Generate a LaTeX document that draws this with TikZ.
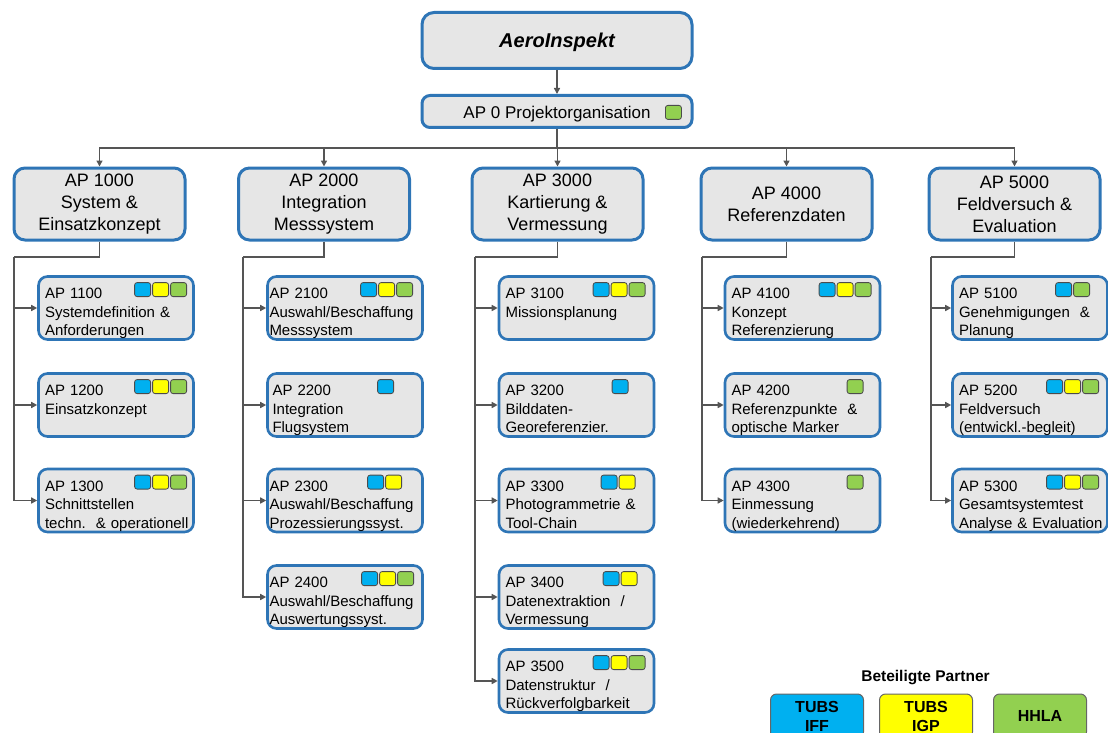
\documentclass[tikz,border=0pt]{standalone}
\usepackage{fontspec}
\setmainfont{Liberation Sans}
\usetikzlibrary{arrows.meta,calc}
\definecolor{boxblue}{RGB}{46,117,182}
\definecolor{boxgray}{RGB}{230,230,230}
\definecolor{linegray}{RGB}{85,85,85}
\definecolor{pblue}{RGB}{0,176,240}
\definecolor{pyellow}{RGB}{255,255,0}
\definecolor{pgreen}{RGB}{146,208,80}
\hyphenpenalty=10000
\newcommand{\pmarks}[3]{%
  \foreach \col [count=\i from 0] in {#3}
    \node[pmark, fill=\col] (#1m\i) at ($(#1.north west)+(#2+18*\i,7)$) {};}

\begin{document}
\begin{tikzpicture}[x=1pt,y=-1pt,
  every node/.style={font=\fontsize{15}{18.5}\selectfont},
  mainbox/.style={draw=boxblue, line width=3pt, fill=boxgray, rounded corners=11pt},
  wpbox/.style={mainbox, minimum width=171pt, minimum height=72pt, align=center, font=\fontsize{18}{22}\selectfont},
  subbox/.style={mainbox, line width=2.6pt, rounded corners=9pt, align=left, text width=142pt, inner xsep=6.5pt, inner ysep=6pt, text height=16pt, text depth=35pt},
  tight/.style={inner xsep=2pt, text width=151pt},
  pmark/.style={draw=black!70, line width=0.8pt, rounded corners=2.5pt, minimum width=16pt, minimum height=14pt, inner sep=0pt, anchor=north west},
  partner/.style={draw=black!60, line width=1pt, rounded corners=6pt, minimum width=93pt, minimum height=44pt, inner sep=0pt, align=center, font=\bfseries\fontsize{16}{19}\selectfont},
  conn/.style={draw=linegray, line width=1.8pt},
  connarr/.style={conn, -{Triangle[length=6pt,width=6pt]}}]

  \clip (0,0) rectangle (1108,733);

  \node[mainbox, minimum width=270pt, minimum height=56pt, rounded corners=12pt, text height=19.5pt, text depth=4.5pt, font=\bfseries\itshape\fontsize{20}{24}\selectfont] (aero) at (557,40.5) {AeroInspekt};
  \node[mainbox, minimum width=270pt, minimum height=32pt, rounded corners=8pt, inner ysep=2pt, text height=18pt, text depth=3pt, font=\fontsize{17}{20}\selectfont] (ap0) at (557,111.5) {AP 0 Projektorganisation};
  \node[pmark, fill=pgreen] (ap0m) at (665,105) {};

  \node[wpbox] (ap1) at (99.5,204) {AP 1000\\System \&\\Einsatzkonzept};
  \node[wpbox] (ap2) at (324,204) {AP 2000\\Integration\\Messsystem};
  \node[wpbox] (ap3) at (557.5,204) {AP 3000\\Kartierung \&\\Vermessung};
  \node[wpbox] (ap4) at (786.5,204) {AP 4000\\Referenzdaten};
  \node[wpbox] (ap5) at (1014.5,204) {AP 5000\\Feldversuch \&\\Evaluation};

  \node[subbox] (ap11) at (116,308) {AP 1100\\Systemdefinition \&\\Anforderungen};
  \node[subbox] (ap12) at (116,405) {AP 1200\\Einsatzkonzept};
  \node[subbox] (ap13) at (116,500.5) {AP 1300\\Schnittstellen\\techn.~~\&~operationell};

  \node[subbox, tight] (ap21) at (345,308) {AP 2100\\Auswahl/Beschaffung\\Messsystem};
  \node[subbox, tight] (ap22) at (345,405) {\hspace*{3pt}AP 2200\\\hspace*{3pt}Integration\\\hspace*{3pt}Flugsystem};
  \node[subbox, tight] (ap23) at (345,500.5) {AP 2300\\Auswahl/Beschaffung\\Prozessierungssyst.};
  \node[subbox, tight] (ap24) at (345,597) {AP 2400\\Auswahl/Beschaffung\\Auswertungssyst.};

  \node[subbox] (ap31) at (576.5,308) {AP 3100\\Missionsplanung};
  \node[subbox] (ap32) at (576.5,405) {AP 3200\\Bilddaten-\\Georeferenzier.};
  \node[subbox] (ap33) at (576.5,500.5) {AP 3300\\Photogrammetrie~\&\\Tool-Chain};
  \node[subbox] (ap34) at (576.5,597) {AP 3400\\Datenextraktion~~/\\Vermessung};
  \node[subbox] (ap35) at (576.5,681) {AP 3500\\Datenstruktur~~/\\Rückverfolgbarkeit};

  \node[subbox] (ap41) at (802.5,308) {AP 4100\\Konzept\\Referenzierung};
  \node[subbox] (ap42) at (802.5,405) {AP 4200\\Referenzpunkte~~\&\\optische Marker};
  \node[subbox] (ap43) at (802.5,500.5) {AP 4300\\Einmessung\\(wiederkehrend)};

  \node[subbox] (ap51) at (1030,308) {AP 5100\\Genehmigungen~~\&\\Planung};
  \node[subbox] (ap52) at (1030,405) {AP 5200\\Feldversuch\\(entwickl.-begleit)};
  \node[subbox] (ap53) at (1030,500.5) {AP 5300\\Gesamtsystemtest\\Analyse~\&~Evaluation};

  \pmarks{ap11}{97}{pblue,pyellow,pgreen}
  \pmarks{ap12}{97}{pblue,pyellow,pgreen}
  \pmarks{ap13}{97}{pblue,pyellow,pgreen}
  \pmarks{ap21}{94}{pblue,pyellow,pgreen}
  \pmarks{ap22}{111}{pblue}
  \pmarks{ap23}{101}{pblue,pyellow}
  \pmarks{ap24}{95}{pblue,pyellow,pgreen}
  \pmarks{ap31}{95}{pblue,pyellow,pgreen}
  \pmarks{ap32}{114}{pblue}
  \pmarks{ap33}{103}{pblue,pyellow}
  \pmarks{ap34}{105}{pblue,pyellow}
  \pmarks{ap35}{95}{pblue,pyellow,pgreen}
  \pmarks{ap41}{95}{pblue,pyellow,pgreen}
  \pmarks{ap42}{123}{pgreen}
  \pmarks{ap43}{123}{pgreen}
  \pmarks{ap51}{104}{pblue,pgreen}
  \pmarks{ap52}{95}{pblue,pyellow,pgreen}
  \pmarks{ap53}{95}{pblue,pyellow,pgreen}

  \draw[connarr] (aero) -- (ap0);
  \coordinate (bus) at (557,148);
  \draw[conn] (ap0) -- (bus);
  \foreach \n in {ap1,ap2,ap3,ap4,ap5}
    \draw[connarr] (bus) -| (\n.north);

  \coordinate (t1) at (14,257);
  \coordinate (t2) at (243,257);
  \coordinate (t3) at (475,257);
  \coordinate (t4) at (702,257);
  \coordinate (t5) at (931,257);
  \foreach \k in {1,...,5}
    \draw[conn] (ap\k.south) |- (t\k);
  \foreach \s in {ap11,ap12,ap13} \draw[connarr] (t1) |- (\s.west);
  \foreach \s in {ap21,ap22,ap23,ap24} \draw[connarr] (t2) |- (\s.west);
  \foreach \s in {ap31,ap32,ap33,ap34,ap35} \draw[connarr] (t3) |- (\s.west);
  \foreach \s in {ap41,ap42,ap43} \draw[connarr] (t4) |- (\s.west);
  \foreach \s in {ap51,ap52,ap53} \draw[connarr] (t5) |- (\s.west);

  \node[font=\bfseries\fontsize{15.5}{18}\selectfont] (legend) at (925.5,678) {Beteiligte Partner};
  \node[partner, fill=pblue] (iff) at (817,716) {TUBS\\IFF};
  \node[partner, fill=pyellow] (igp) at (926,716) {TUBS\\IGP};
  \node[partner, fill=pgreen] (hhla) at (1040,716) {HHLA};
\end{tikzpicture}
\end{document}
